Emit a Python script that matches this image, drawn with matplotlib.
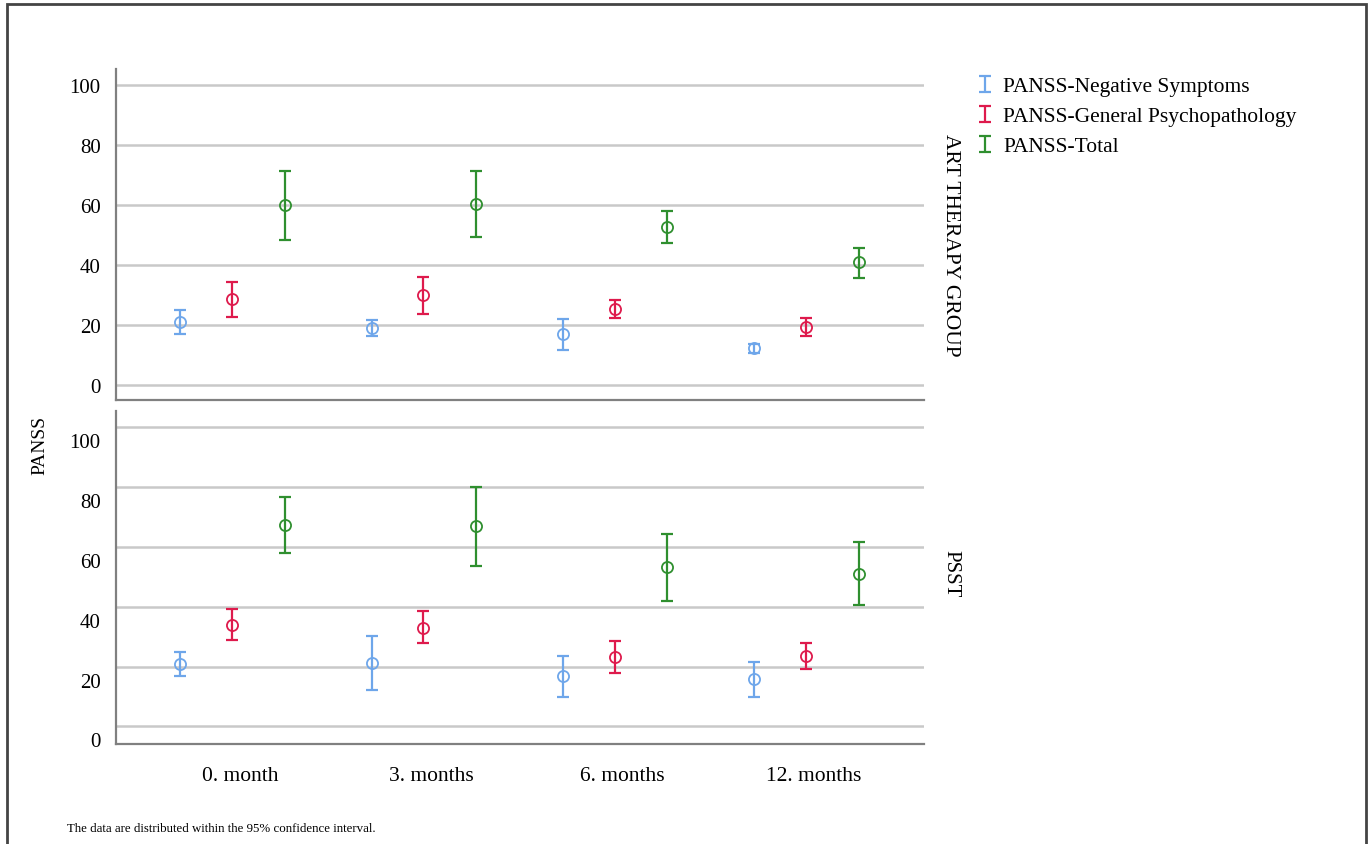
import numpy as np
import matplotlib
matplotlib.use('Agg')
import matplotlib.pyplot as plt
import matplotlib.transforms as mtransforms
from matplotlib.patches import Rectangle
from matplotlib.legend_handler import HandlerErrorbar
from matplotlib.container import ErrorbarContainer

plt.rcParams['font.family'] = ['Liberation Serif', 'DejaVu Serif']

months = ['0. month', '3. months', '6. months', '12. months']
series = ['PANSS-Negative Symptoms', 'PANSS-General Psychopathology', 'PANSS-Total']
colors = ['#6ea6ea', '#de1a4c', '#2f8f2f']
groups = ['ART THERAPY GROUP', 'PSST']

# art therapy group: mean, lower CI, upper CI per series
art_mean = [[20.9, 19.0, 17.0, 12.3],
            [28.6, 29.9, 25.3, 19.4],
            [60.0, 60.4, 52.8, 40.9]]
art_low = [[16.9, 16.4, 11.8, 10.8],
           [22.8, 23.8, 22.3, 16.3],
           [48.4, 49.4, 47.3, 35.8]]
art_high = [[25.1, 21.7, 22.0, 13.8],
            [34.4, 36.0, 28.3, 22.4],
            [71.4, 71.3, 58.0, 45.7]]

# PSST group
psst_mean = [[20.8, 21.3, 16.8, 15.7],
             [34.0, 33.0, 23.3, 23.7],
             [67.2, 67.0, 53.3, 51.1]]
psst_low = [[16.8, 12.1, 9.9, 9.7],
            [28.9, 27.8, 17.7, 19.3],
            [58.0, 53.7, 42.0, 40.6]]
psst_high = [[25.0, 30.2, 23.7, 21.5],
             [39.1, 38.5, 28.5, 28.0],
             [76.8, 80.2, 64.3, 61.6]]

W, H = 1371, 845
fig = plt.figure(figsize=(W / 100, H / 100), dpi=100)

def fx(px):
    return px / W

def fy(py):
    return 1 - py / H

ax1 = fig.add_axes([fx(116), fy(401), fx(924) - fx(116), fy(70) - fy(401)])
ax2 = fig.add_axes([fx(116), fy(745), fx(924) - fx(116), fy(412) - fy(745)])

offsets = [-0.27, 0.0, 0.275]
x = np.arange(len(months))
handles = []
for ax, means, lows, highs, ylim in [(ax1, art_mean, art_low, art_high, (-5, 105.3)),
                                     (ax2, psst_mean, psst_low, psst_high, (-5.9, 105.5))]:
    for i in range(3):
        m = np.array(means[i])
        err = [m - np.array(lows[i]), np.array(highs[i]) - m]
        eb = ax.errorbar(x + offsets[i], m, yerr=err, fmt='none', ecolor=colors[i],
                         elinewidth=1.6, capsize=4.6, capthick=1.6, zorder=3)
        ax.plot(x + offsets[i], m, 'o', mfc='none', mec=colors[i], mew=1.3,
                ms=8, zorder=4)
        if ax is ax1:
            handles.append(eb)
    ax.set_xlim(-0.606, 3.617)
    ax.set_ylim(*ylim)
    ax.set_yticks([0, 20, 40, 60, 80, 100])
    ax.grid(axis='y', color='#c9c9c9', lw=1.8)
    ax.set_axisbelow(True)
    ax.tick_params(axis='y', length=0, pad=11, labelsize=15)
    for s in ['top', 'right']:
        ax.spines[s].set_visible(False)
    for s in ['left', 'bottom']:
        ax.spines[s].set_color('#808080')
        ax.spines[s].set_linewidth(1.6)

ax1.set_xticks([])
ax2.set_xticks(x)
ax2.set_xticklabels(months)
ax2.tick_params(axis='x', length=0, pad=16, labelsize=15.5)

# labels in the lower panel sit a little below their gridlines
shift_down = mtransforms.ScaledTranslation(0, -0.13, fig.dpi_scale_trans)
for lab in ax2.get_yticklabels():
    lab.set_transform(lab.get_transform() + shift_down)
shift_right = mtransforms.ScaledTranslation(0.08, 0, fig.dpi_scale_trans)
for lab in ax2.get_xticklabels():
    lab.set_transform(lab.get_transform() + shift_right)

fig.text(fx(40), fy(445), 'PANSS', rotation=90, ha='center', va='center', fontsize=14)
fig.text(fx(951), fy(245), groups[0], rotation=-90, ha='center', va='center', fontsize=15.5)
fig.text(fx(951), fy(574), groups[1], rotation=-90, ha='center', va='center', fontsize=15)

fig.legend(handles, series, loc='upper left', bbox_to_anchor=(fx(970), fy(69)),
           frameon=False, fontsize=15.5, handlelength=0.6, handleheight=0.5,
           handletextpad=0.55, labelspacing=0.52, borderaxespad=0,
           handler_map={ErrorbarContainer: HandlerErrorbar(xerr_size=0.37)})

fig.text(fx(67), fy(829), 'The data are distributed within the 95% confidence interval.',
         ha='left', va='center', fontsize=9.3)

fig.patches.append(Rectangle((fx(7), -0.05), fx(1366) - fx(7), fy(5) + 0.05,
                             transform=fig.transFigure, fill=False,
                             edgecolor='#444444', lw=2))

fig.savefig('out.png', dpi=100)
